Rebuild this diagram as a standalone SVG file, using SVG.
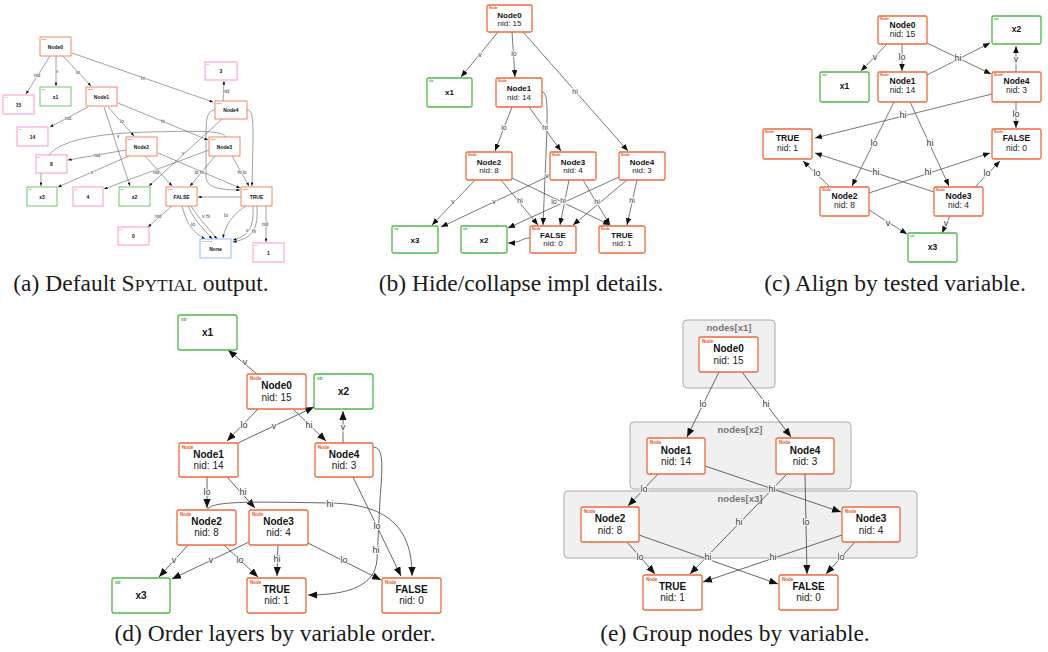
<svg xmlns="http://www.w3.org/2000/svg" width="1048" height="652" viewBox="0 0 1048 652">
<style>
text{font-family:"Liberation Sans",Arial,sans-serif}
.box{fill:#fff;stroke-width:1.3}
.nd{stroke:#ee6a3c}
.st{stroke:#4db848}
.pk{stroke:#ff7cc6}
.bl{stroke:#78b0f0}
.tg{font-weight:bold}
.tn{fill:#e8552a}
.ts{fill:#3aa83a}
.tp{fill:#ff5fb0}
.tb{fill:#4d94e6}
.ttl{font-weight:bold;fill:#111;text-anchor:middle}
.nid{fill:#222;text-anchor:middle}
.e{fill:none;stroke:#555}
.lb{fill:#3a3a3a;text-anchor:middle;stroke:#fff;stroke-width:2;stroke-opacity:.85;paint-order:stroke}
.cl{fill:#f0f0f0;stroke:#aaa;stroke-width:1}
.clt{font-weight:bold;fill:#777;text-anchor:middle;font-size:9.5px}
.cap{font-family:"Liberation Serif","Times New Roman",serif;fill:#1a1a1a;text-anchor:middle;font-size:23.5px}
.fa .ttl{font-size:5px}.fa .tg{font-size:2.2px}.fa .box{stroke-width:.8}
.fb .ttl,.fb .nid{font-size:8px}.fb .tg{font-size:3.5px}
.fc .ttl,.fc .nid{font-size:8.5px}.fc .tg{font-size:3.6px}
.fd .ttl,.fd .nid{font-size:10px}.fd .tg{font-size:4.5px}
.la{font-size:5px;stroke-width:1}
.lbb{font-size:7px}
.lc{font-size:9px}
.ld{font-size:9px}
</style>
<defs>
<marker id="ah-d" viewBox="0 0 10 8" refX="10" refY="4" markerWidth="9" markerHeight="7.2" markerUnits="userSpaceOnUse" orient="auto"><path d="M0,0L10,4L0,8z" fill="#111"/></marker>
<marker id="ah-b" viewBox="0 0 10 8" refX="10" refY="4" markerWidth="7" markerHeight="5.6" markerUnits="userSpaceOnUse" orient="auto"><path d="M0,0L10,4L0,8z" fill="#111"/></marker>
<marker id="ah-a" viewBox="0 0 10 8" refX="10" refY="4" markerWidth="3.6" markerHeight="2.9" markerUnits="userSpaceOnUse" orient="auto"><path d="M0,0L10,4L0,8z" fill="#111"/></marker>
</defs>

<!-- clusters for the grouped layout -->
<g id="clusters-e">
<rect class="cl" x="683" y="320" width="92" height="68" rx="4"/>
<text class="clt" x="729" y="330.5">nodes[x1]</text>
<rect class="cl" x="630" y="422" width="221" height="67" rx="4"/>
<text class="clt" x="740" y="432.5">nodes[x2]</text>
<rect class="cl" x="564" y="491" width="353" height="67" rx="4"/>
<text class="clt" x="740" y="501.5">nodes[x3]</text>
</g>

<!-- ===== connectors ===== -->
<g id="connectors">
<g id="edges-a" class="e" stroke-width=".55" marker-end="url(#ah-a)">
<path d="M50,56L26,94"/>
<path d="M56,56L56,86"/>
<path d="M63,56L91,86"/>
<path d="M72,53L213,102"/>
<path d="M223,101L224,81"/>
<path d="M88,107L50,127"/>
<path d="M108,107L134,136"/>
<path d="M118,103L208,140"/>
<path d="M104,107L130,186"/>
<path d="M126,150L68,160"/>
<path d="M129,156L58,187"/>
<path d="M41,173L41,186"/>
<path d="M49,155C60,140 100,133 150,132C190,131 225,130 225,137" marker-end="none"/>
<path d="M145,156L172,186"/>
<path d="M158,153L240,188"/>
<path d="M209,150L104,189"/>
<path d="M222,119L149,186"/>
<path d="M215,156L190,186"/>
<path d="M232,156L249,186"/>
<path d="M247,110C253,110 253,120 253,140L252,186"/>
<path d="M215,110C207,110 206,120 206,135L206,176C206,186 215,190 240,190"/>
<path d="M241,197L198,197"/>
<path d="M172,206L148,227"/>
<path d="M182,206C186,222 192,232 205,239"/>
<path d="M188,206C195,222 205,230 212,239"/>
<path d="M191,206C200,220 210,230 217,239"/>
<path d="M246,206C236,212 226,222 223,238"/>
<path d="M253,206C254,225 250,236 233,240"/>
<path d="M257,206C258,228 254,238 233,242"/>
<path d="M266,206L266,242"/>
</g>
<g id="labels-a" class="lb la">
<text x="37" y="77">nid</text><text x="57" y="73">v</text><text x="78" y="74">lo</text>
<text x="143" y="80">hi</text><text x="226" y="93">nid</text><text x="68" y="120">nid</text>
<text x="122" y="123">lo</text><text x="163" y="123">hi</text><text x="118" y="138">v</text>
<text x="97" y="157">nid</text><text x="92" y="174">v</text><text x="156" y="174">nid</text>
<text x="199" y="174">lo hi</text><text x="183" y="155">v</text><text x="242" y="174">hi lo</text>
<text x="158" y="218">nid</text><text x="193" y="226">lo</text><text x="206" y="218">v hi</text>
<text x="226" y="217">lo</text><text x="247" y="232">v</text><text x="254" y="233">hi</text>
<text x="265" y="226">nid</text>
</g>

<g id="edges-b" class="e" stroke-width=".8" marker-end="url(#ah-b)">
<path d="M498,32L461,77"/>
<path d="M512,32L515,77"/>
<path d="M523,32L628,151"/>
<path d="M512,107L495,151"/>
<path d="M529,107L561,151"/>
<path d="M542,92C548,92 547,110 547,130L543,225"/>
<path d="M530,238C522,238 520,243 508,243"/>
<path d="M475,180L432,225"/>
<path d="M501,180L538,225"/>
<path d="M512,178L610,225"/>
<path d="M549,176L441,227"/>
<path d="M569,180L560,225"/>
<path d="M583,180L610,225"/>
<path d="M619,177L508,228"/>
<path d="M627,180L573,225"/>
<path d="M637,180L627,225"/>
</g>
<g id="labels-b" class="lb lbb">
<text x="480" y="57">v</text><text x="514" y="56">lo</text><text x="575" y="94">hi</text>
<text x="504" y="130">lo</text><text x="545" y="130">hi</text><text x="547" y="178">v</text>
<text x="453" y="204">v</text><text x="494" y="204">v</text><text x="520" y="203">hi</text>
<text x="554" y="204">lo</text><text x="563" y="203">hi</text><text x="597" y="204">hi</text>
<text x="632" y="203">hi</text>
</g>

<g id="edges-c" class="e" stroke-width=".8" marker-end="url(#ah-b)">
<path d="M887,44L861,71"/>
<path d="M902,44L902,71"/>
<path d="M927,43L991,74"/>
<path d="M927,75L990,43"/>
<path d="M1016,72L1016,46"/>
<path d="M1016,102L1016,128"/>
<path d="M992,94L815,138"/>
<path d="M894,102L852,186"/>
<path d="M910,102L949,186"/>
<path d="M830,187L803,161"/>
<path d="M869,193L990,153"/>
<path d="M934,192L815,153"/>
<path d="M975,187L1000,161"/>
<path d="M869,210L907,234"/>
<path d="M950,216L942,233"/>
</g>
<g id="labels-c" class="lb lc">
<text x="875" y="60">v</text><text x="902" y="60">lo</text><text x="958" y="61">hi</text>
<text x="1016" y="62">v</text><text x="1016" y="117">lo</text><text x="903" y="118">hi</text>
<text x="874" y="146">lo</text><text x="930" y="146">hi</text><text x="817" y="176">lo</text>
<text x="876" y="175">hi</text><text x="928" y="175">hi</text><text x="987" y="176">lo</text>
<text x="888" y="226">v</text><text x="946" y="226">v</text>
</g>

<g id="edges-d" class="e" stroke-width=".9" marker-end="url(#ah-d)">
<path d="M257,374L228,350"/>
<path d="M258,409L227,441"/>
<path d="M293,409L326,441"/>
<path d="M238,443L314,407"/>
<path d="M343,443L343,411"/>
<path d="M207,477L207,508"/>
<path d="M227,477L255,508"/>
<path d="M207,510C210,500 260,502 330,503C400,504 412,540 412,576"/>
<path d="M353,477L401,576"/>
<path d="M373,447C385,447 382,470 380,500L377,560C375,585 350,595 308,595"/>
<path d="M188,545L159,577"/>
<path d="M249,542L172,579"/>
<path d="M224,545L258,577"/>
<path d="M278,545L277,576"/>
<path d="M308,543L381,580"/>
</g>
<g id="labels-d" class="lb ld">
<text x="245" y="365">v</text><text x="244" y="428">lo</text><text x="309" y="428">hi</text>
<text x="274" y="429">v</text><text x="343" y="430">v</text><text x="207" y="495">lo</text>
<text x="243" y="495">hi</text><text x="330" y="507">hi</text><text x="377" y="529">lo</text>
<text x="376" y="553">hi</text><text x="174" y="563">v</text><text x="211" y="563">v</text>
<text x="240" y="563">lo</text><text x="277" y="562">hi</text><text x="344" y="563">lo</text>
</g>

<g id="edges-e" class="e" stroke-width=".9" marker-end="url(#ah-d)">
<path d="M719,372L687,437"/>
<path d="M742,372L791,437"/>
<path d="M658,474L628,506"/>
<path d="M705,466L841,512"/>
<path d="M787,474L690,574"/>
<path d="M805,474L807,574"/>
<path d="M627,542L655,574"/>
<path d="M639,535L778,584"/>
<path d="M842,535L703,582"/>
<path d="M855,542L826,574"/>
</g>
<g id="labels-e" class="lb ld">
<text x="703" y="407">lo</text><text x="766" y="407">hi</text><text x="644" y="492">lo</text>
<text x="772" y="492">hi</text><text x="739" y="525">hi</text><text x="806" y="525">lo</text>
<text x="640" y="560">lo</text><text x="708" y="560">hi</text><text x="773" y="560">hi</text>
<text x="841" y="560">lo</text>
</g>
</g>

<!-- ===== panel (a): nodes ===== -->
<g class="fa">
<g id="a-node0"><rect class="box nd" x="40" y="37" width="31" height="19"/><text class="tg tn" x="41.5" y="40">Node</text><text class="ttl" x="55.5" y="48.5">Node0</text></g>
<g id="a-int15"><rect class="box pk" x="3" y="95" width="31" height="19"/><text class="tg tp" x="4.5" y="98">int</text><text class="ttl" x="18.5" y="106.5">15</text></g>
<g id="a-x1"><rect class="box st" x="40" y="87" width="31" height="19"/><text class="tg ts" x="41.5" y="90">str</text><text class="ttl" x="55.5" y="98.5">x1</text></g>
<g id="a-node1"><rect class="box nd" x="86" y="87" width="31" height="19"/><text class="tg tn" x="87.5" y="90">Node</text><text class="ttl" x="101.5" y="98.5">Node1</text></g>
<g id="a-int14"><rect class="box pk" x="17" y="127" width="31" height="19"/><text class="tg tp" x="18.5" y="130">int</text><text class="ttl" x="32.5" y="138.5">14</text></g>
<g id="a-node2"><rect class="box nd" x="126" y="137" width="31" height="19"/><text class="tg tn" x="127.5" y="140">Node</text><text class="ttl" x="141.5" y="148.5">Node2</text></g>
<g id="a-int8"><rect class="box pk" x="36" y="155" width="31" height="18"/><text class="tg tp" x="37.5" y="158">int</text><text class="ttl" x="51.5" y="166">8</text></g>
<g id="a-x3"><rect class="box st" x="27" y="187" width="30" height="19"/><text class="tg ts" x="28.5" y="190">str</text><text class="ttl" x="42" y="198.5">x3</text></g>
<g id="a-int4"><rect class="box pk" x="73" y="187" width="30" height="19"/><text class="tg tp" x="74.5" y="190">int</text><text class="ttl" x="88" y="198.5">4</text></g>
<g id="a-x2"><rect class="box st" x="119" y="187" width="31" height="19"/><text class="tg ts" x="120.5" y="190">str</text><text class="ttl" x="134.5" y="198.5">x2</text></g>
<g id="a-int0"><rect class="box pk" x="118" y="227" width="31" height="18"/><text class="tg tp" x="119.5" y="230">int</text><text class="ttl" x="133.5" y="238">0</text></g>
<g id="a-int3"><rect class="box pk" x="205" y="62" width="32" height="18"/><text class="tg tp" x="206.5" y="65">int</text><text class="ttl" x="221" y="73">3</text></g>
<g id="a-node4"><rect class="box nd" x="215" y="101" width="32" height="18"/><text class="tg tn" x="216.5" y="104">Node</text><text class="ttl" x="231" y="112">Node4</text></g>
<g id="a-node3"><rect class="box nd" x="209" y="137" width="31" height="19"/><text class="tg tn" x="210.5" y="140">Node</text><text class="ttl" x="224.5" y="148.5">Node3</text></g>
<g id="a-false"><rect class="box nd" x="166" y="187" width="31" height="19"/><text class="tg tn" x="167.5" y="190">Node</text><text class="ttl" x="181.5" y="198.5">FALSE</text></g>
<g id="a-true"><rect class="box nd" x="241" y="187" width="31" height="19"/><text class="tg tn" x="242.5" y="190">Node</text><text class="ttl" x="256.5" y="198.5">TRUE</text></g>
<g id="a-none"><rect class="box bl" x="200" y="239" width="31" height="19"/><text class="tg tb" x="201.5" y="242">NoneType</text><text class="ttl" x="215.5" y="250.5">None</text></g>
<g id="a-int1"><rect class="box pk" x="253" y="243" width="31" height="19"/><text class="tg tp" x="254.5" y="246">int</text><text class="ttl" x="268.5" y="254.5">1</text></g>
</g>

<!-- ===== panel (b): nodes ===== -->
<g class="fb">
<g id="b-node0"><rect class="box nd" x="487" y="5" width="45" height="27" rx="1.5"/><text class="tg tn" x="489" y="9">Node</text><text class="ttl" x="509.5" y="17.8">Node0</text><text class="nid" x="509.5" y="25.8">nid: 15</text></g>
<g id="b-x1"><rect class="box st" x="427" y="78" width="45" height="29" rx="1.5"/><text class="tg ts" x="429" y="82">str</text><text class="ttl" x="449.5" y="95.3">x1</text></g>
<g id="b-node1"><rect class="box nd" x="496" y="78" width="46" height="29" rx="1.5"/><text class="tg tn" x="498" y="82">Node</text><text class="ttl" x="519" y="91">Node1</text><text class="nid" x="519" y="99.8">nid: 14</text></g>
<g id="b-node2"><rect class="box nd" x="466" y="152" width="46" height="28" rx="1.5"/><text class="tg tn" x="468" y="156">Node</text><text class="ttl" x="489" y="164.6">Node2</text><text class="nid" x="489" y="173">nid: 8</text></g>
<g id="b-node3"><rect class="box nd" x="550" y="152" width="46" height="28" rx="1.5"/><text class="tg tn" x="552" y="156">Node</text><text class="ttl" x="573" y="164.6">Node3</text><text class="nid" x="573" y="173">nid: 4</text></g>
<g id="b-node4"><rect class="box nd" x="619" y="152" width="46" height="28" rx="1.5"/><text class="tg tn" x="621" y="156">Node</text><text class="ttl" x="642" y="164.6">Node4</text><text class="nid" x="642" y="173">nid: 3</text></g>
<g id="b-x3"><rect class="box st" x="392" y="226" width="46" height="27" rx="1.5"/><text class="tg ts" x="394" y="230">str</text><text class="ttl" x="415" y="242.8">x3</text></g>
<g id="b-x2"><rect class="box st" x="461" y="226" width="46" height="27" rx="1.5"/><text class="tg ts" x="463" y="230">str</text><text class="ttl" x="484" y="242.8">x2</text></g>
<g id="b-false"><rect class="box nd" x="530" y="226" width="46" height="27" rx="1.5"/><text class="tg tn" x="532" y="230">Node</text><text class="ttl" x="553" y="237.8">FALSE</text><text class="nid" x="553" y="246.2">nid: 0</text></g>
<g id="b-true"><rect class="box nd" x="599" y="226" width="46" height="27" rx="1.5"/><text class="tg tn" x="601" y="230">Node</text><text class="ttl" x="622" y="237.8">TRUE</text><text class="nid" x="622" y="246.2">nid: 1</text></g>
</g>

<!-- ===== panel (c): nodes ===== -->
<g class="fc">
<g id="c-node0"><rect class="box nd" x="878" y="16" width="49" height="28" rx="1.5"/><text class="tg tn" x="880" y="20">Node</text><text class="ttl" x="902.5" y="27.5">Node0</text><text class="nid" x="902.5" y="37">nid: 15</text></g>
<g id="c-x2"><rect class="box st" x="992" y="16" width="49" height="28" rx="1.5"/><text class="tg ts" x="994" y="20">str</text><text class="ttl" x="1016.5" y="32">x2</text></g>
<g id="c-x1"><rect class="box st" x="820" y="72" width="49" height="30" rx="1.5"/><text class="tg ts" x="822" y="76">str</text><text class="ttl" x="844.5" y="89">x1</text></g>
<g id="c-node1"><rect class="box nd" x="878" y="72" width="49" height="30" rx="1.5"/><text class="tg tn" x="880" y="76">Node</text><text class="ttl" x="902.5" y="84">Node1</text><text class="nid" x="902.5" y="93.3">nid: 14</text></g>
<g id="c-node4"><rect class="box nd" x="992" y="72" width="49" height="30" rx="1.5"/><text class="tg tn" x="994" y="76">Node</text><text class="ttl" x="1016.5" y="84">Node4</text><text class="nid" x="1016.5" y="93.3">nid: 3</text></g>
<g id="c-true"><rect class="box nd" x="763" y="129" width="49" height="30" rx="1.5"/><text class="tg tn" x="765" y="133">Node</text><text class="ttl" x="787.5" y="141.3">TRUE</text><text class="nid" x="787.5" y="150.7">nid: 1</text></g>
<g id="c-false"><rect class="box nd" x="992" y="129" width="49" height="30" rx="1.5"/><text class="tg tn" x="994" y="133">Node</text><text class="ttl" x="1016.5" y="141.3">FALSE</text><text class="nid" x="1016.5" y="150.7">nid: 0</text></g>
<g id="c-node2"><rect class="box nd" x="820" y="187" width="49" height="29" rx="1.5"/><text class="tg tn" x="822" y="191">Node</text><text class="ttl" x="844.5" y="198.7">Node2</text><text class="nid" x="844.5" y="208">nid: 8</text></g>
<g id="c-node3"><rect class="box nd" x="934" y="187" width="49" height="29" rx="1.5"/><text class="tg tn" x="936" y="191">Node</text><text class="ttl" x="958.5" y="198.7">Node3</text><text class="nid" x="958.5" y="208">nid: 4</text></g>
<g id="c-x3"><rect class="box st" x="908" y="233" width="49" height="29" rx="1.5"/><text class="tg ts" x="910" y="237">str</text><text class="ttl" x="932.5" y="250.3">x3</text></g>
</g>

<!-- ===== panel (d): nodes ===== -->
<g class="fd">
<g id="d-x1"><rect class="box st" x="178" y="315" width="59" height="35" rx="2"/><text class="tg ts" x="181" y="321">str</text><text class="ttl" x="207.5" y="336">x1</text></g>
<g id="d-node0"><rect class="box nd" x="247" y="374" width="59" height="35" rx="2"/><text class="tg tn" x="250" y="380">Node</text><text class="ttl" x="276.5" y="389.2">Node0</text><text class="nid" x="276.5" y="400.8">nid: 15</text></g>
<g id="d-x2"><rect class="box st" x="314" y="374" width="59" height="35" rx="2"/><text class="tg ts" x="317" y="380">str</text><text class="ttl" x="343.5" y="395">x2</text></g>
<g id="d-node1"><rect class="box nd" x="179" y="443" width="59" height="34" rx="2"/><text class="tg tn" x="182" y="449">Node</text><text class="ttl" x="208.5" y="457.5">Node1</text><text class="nid" x="208.5" y="468.5">nid: 14</text></g>
<g id="d-node4"><rect class="box nd" x="315" y="443" width="58" height="34" rx="2"/><text class="tg tn" x="318" y="449">Node</text><text class="ttl" x="344" y="457.5">Node4</text><text class="nid" x="344" y="468.5">nid: 3</text></g>
<g id="d-node2"><rect class="box nd" x="177" y="510" width="59" height="35" rx="2"/><text class="tg tn" x="180" y="516">Node</text><text class="ttl" x="206.5" y="525.2">Node2</text><text class="nid" x="206.5" y="536.2">nid: 8</text></g>
<g id="d-node3"><rect class="box nd" x="249" y="510" width="59" height="35" rx="2"/><text class="tg tn" x="252" y="516">Node</text><text class="ttl" x="278.5" y="525.2">Node3</text><text class="nid" x="278.5" y="536.2">nid: 4</text></g>
<g id="d-x3"><rect class="box st" x="112" y="578" width="58" height="35" rx="2"/><text class="tg ts" x="115" y="584">str</text><text class="ttl" x="141" y="599.2">x3</text></g>
<g id="d-true"><rect class="box nd" x="247" y="578" width="59" height="35" rx="2"/><text class="tg tn" x="250" y="584">Node</text><text class="ttl" x="276.5" y="592.5">TRUE</text><text class="nid" x="276.5" y="603.5">nid: 1</text></g>
<g id="d-false"><rect class="box nd" x="382" y="578" width="59" height="35" rx="2"/><text class="tg tn" x="385" y="584">Node</text><text class="ttl" x="411.5" y="592.5">FALSE</text><text class="nid" x="411.5" y="603.5">nid: 0</text></g>
</g>

<!-- ===== panel (e): nodes ===== -->
<g class="fd">
<g id="e-node0"><rect class="box nd" x="699" y="337" width="59" height="35" rx="2"/><text class="tg tn" x="702" y="343">Node</text><text class="ttl" x="728.5" y="351.8">Node0</text><text class="nid" x="728.5" y="363.5">nid: 15</text></g>
<g id="e-node1"><rect class="box nd" x="647" y="438" width="58" height="36" rx="2"/><text class="tg tn" x="650" y="444">Node</text><text class="ttl" x="676" y="453.5">Node1</text><text class="nid" x="676" y="465.2">nid: 14</text></g>
<g id="e-node4"><rect class="box nd" x="776" y="438" width="58" height="36" rx="2"/><text class="tg tn" x="779" y="444">Node</text><text class="ttl" x="805" y="453.5">Node4</text><text class="nid" x="805" y="465.2">nid: 3</text></g>
<g id="e-node2"><rect class="box nd" x="581" y="507" width="58" height="35" rx="2"/><text class="tg tn" x="584" y="513">Node</text><text class="ttl" x="610" y="521.8">Node2</text><text class="nid" x="610" y="533.5">nid: 8</text></g>
<g id="e-node3"><rect class="box nd" x="842" y="507" width="58" height="35" rx="2"/><text class="tg tn" x="845" y="513">Node</text><text class="ttl" x="871" y="521.8">Node3</text><text class="nid" x="871" y="533.5">nid: 4</text></g>
<g id="e-true"><rect class="box nd" x="643" y="575" width="59" height="35" rx="2"/><text class="tg tn" x="646" y="581">Node</text><text class="ttl" x="672.5" y="590.2">TRUE</text><text class="nid" x="672.5" y="601.2">nid: 1</text></g>
<g id="e-false"><rect class="box nd" x="779" y="575" width="59" height="35" rx="2"/><text class="tg tn" x="782" y="581">Node</text><text class="ttl" x="808.5" y="590.2">FALSE</text><text class="nid" x="808.5" y="601.2">nid: 0</text></g>
</g>

<!-- ===== captions ===== -->
<g id="captions">
<text class="cap" x="141" y="291">(a) Default S<tspan font-size="17.5">PYTIAL</tspan> output.</text>
<text class="cap" x="521" y="291">(b) Hide/collapse impl details.</text>
<text class="cap" x="895" y="291">(c) Align by tested variable.</text>
<text class="cap" x="275" y="641">(d) Order layers by variable order.</text>
<text class="cap" x="735" y="641">(e) Group nodes by variable.</text>
</g>
</svg>
